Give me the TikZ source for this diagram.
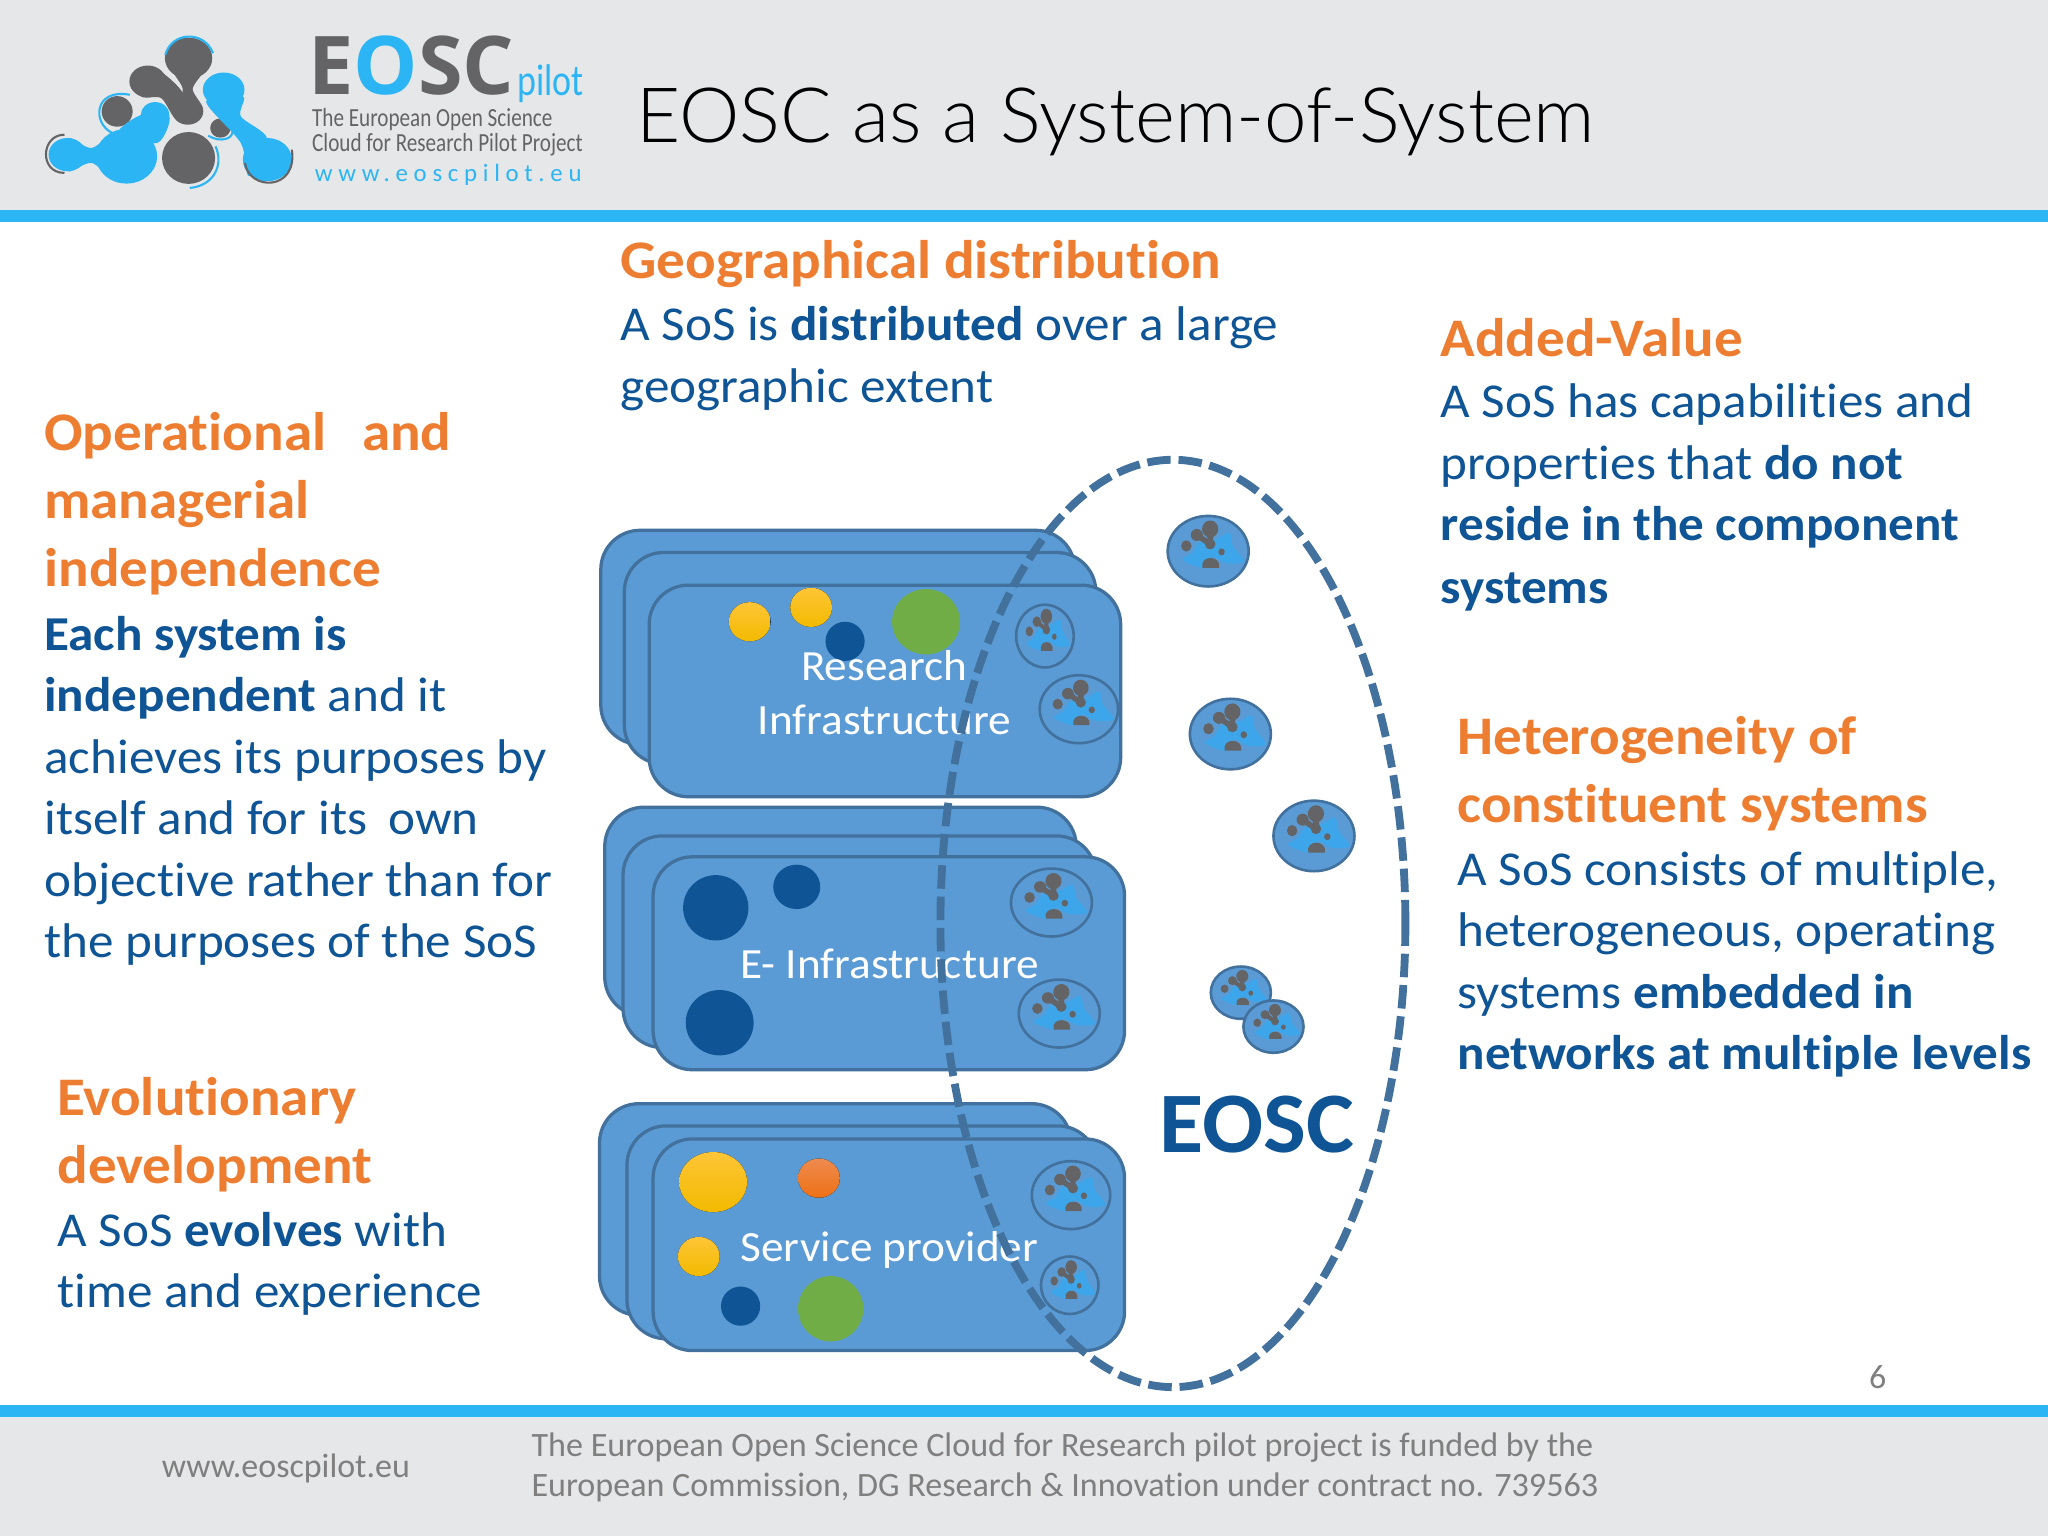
\documentclass[tikz,border=0pt]{standalone}
\usepackage{fontspec}
\setmainfont[Ligatures=NoCommon]{Carlito}
\newfontfamily\wide[FakeStretch=1.05,Ligatures=NoCommon]{Carlito}
\newfontfamily\narrow[FakeStretch=0.81,Ligatures=NoCommon]{Carlito}
\newfontfamily\logofont{Open Sans}
\newfontfamily\lightf[FakeStretch=1.0]{Lato Light}
\definecolor{hdrgray}{HTML}{E6E7E8}
\definecolor{barblue}{HTML}{2CB5F5}
\definecolor{orangeT}{HTML}{ED7D31}
\definecolor{navyT}{HTML}{0F5596}
\definecolor{boxfill}{HTML}{5B9BD5}
\definecolor{boxline}{HTML}{41719C}
\definecolor{footgray}{HTML}{7F7F7F}
\definecolor{logogray}{HTML}{646466}
\definecolor{miniblue}{HTML}{3DA5EA}
\definecolor{dotgreen}{HTML}{70AD47}
\definecolor{dotyellowA}{HTML}{FFC537}
\definecolor{dotyellowB}{HTML}{F2BA00}
\definecolor{dotorangeA}{HTML}{EE8B4E}
\definecolor{dotorangeB}{HTML}{EE7015}
\newcommand{\fsz}[1]{\fontsize{#1}{#1}\selectfont}
\newcommand{\hd}{\wide\fsz{41.6}\bfseries\color{orangeT}}
\newcommand{\bd}{\wide\fsz{37.3}\color{navyT}}
\newcommand{\bx}{\wide\fsz{33}}
\newcommand{\mini}[4]{%
 \fill[boxfill,draw=boxline,line width=2pt] (#1,#2) ellipse [x radius=#3pt,y radius=#4pt];
 \begin{scope}[shift={(#1,#2)},xscale=#3,yscale=#4]
  \fill[miniblue] plot[smooth cycle] coordinates {(.52,-.53)(.61,-.15)(.88,.29)(.44,.34)(.1,.15)(-.1,.48)(-.64,.25)(-.39,.05)(-.22,-.24)(.19,-.34)};
  \draw[logogray,line width={#3*0.14pt}] (.05,-.63) -- (.05,-.2) (-.28,-.46) -- (.05,-.2);
  \fill[logogray] (.05,-.63) ellipse [x radius=.2,y radius=.24];
  \fill[logogray] (-.28,-.46) ellipse [x radius=.15,y radius=.17];
  \fill[logogray] (.05,-.2) ellipse [x radius=.13,y radius=.15];
  \fill[logogray] (-.54,-.15) ellipse [x radius=.13,y radius=.16];
  \fill[logogray] (.33,.02) ellipse [x radius=.08,y radius=.1];
  \fill[logogray] (-.14,.47) .. controls (-.22,.1) and (.33,.1) .. (.27,.47) -- cycle;
 \end{scope}}
\tikzset{
 lbl/.style={anchor=base west,inner sep=0pt,outer sep=0pt},
 clbl/.style={anchor=base,inner sep=0pt,outer sep=0pt},
 sysbox/.style={fill=boxfill,draw=boxline,line width=2.5pt,rounded corners=30pt},
 navydot/.style={fill=navyT},
 greendot/.style={fill=dotgreen},
 yellowdot/.style={top color=dotyellowA,bottom color=dotyellowB,draw=none},
 orangedot/.style={top color=dotorangeA,bottom color=dotorangeB,draw=none},
 eoscring/.style={draw=boxline,line width=6pt,dash pattern=on 18pt off 6pt},
 swoosh/.style={line width=1.6pt},
}
\begin{document}
\begin{tikzpicture}[x=1pt,y=-1pt]
\useasboundingbox (0,0) rectangle (1568,1176);
\fill[white] (0,0) rectangle (1568,1176);
\fill[hdrgray] (0,0) rectangle (1568,161);
\fill[barblue] (0,161) rectangle (1568,170);
\fill[barblue] (0,1076) rectangle (1568,1085);
\fill[hdrgray] (0,1085) rectangle (1568,1176);
% header logo
\begin{scope}[xscale=0.3125,yscale=0.2546]
 % grey blob
 \fill[logogray] (462,175) ellipse [x radius=58,y radius=62];
 \fill[logogray] (362,245) ellipse [x radius=45,y radius=48];
 \fill[logogray] (460,335) ellipse [x radius=38,y radius=40];
 \fill[logogray] plot[smooth cycle,tension=.5] coordinates {(425,210)(497,210)(472,268)(496,330)(425,345)(448,270)};
 \fill[logogray] plot[smooth cycle,tension=.5] coordinates {(375,205)(448,280)(430,355)(395,295)(345,288)};
 \fill[logogray] (287,335) ellipse [x radius=38,y radius=46];
 \fill[logogray] (462,475) ellipse [x radius=65,y radius=78];
 \fill[logogray] (540,385) ellipse [x radius=25,y radius=29];
 % blue blobs
 \fill[barblue] (548,270) ellipse [x radius=51,y radius=52];
 \fill[barblue] (655,480) ellipse [x radius=60,y radius=65];
 \fill[barblue] plot[smooth cycle,tension=.5] coordinates {(595,290)(590,350)(655,418)(610,530)(590,430)(505,305)};
 \fill[barblue] (310,470) ellipse [x radius=75,y radius=82];
 \fill[barblue] (380,345) ellipse [x radius=35,y radius=38];
 \fill[barblue] (165,465) ellipse [x radius=46,y radius=50];
 \fill[barblue] plot[smooth cycle,tension=.5] coordinates {(347,345)(415,350)(385,430)(290,400)};
 \fill[barblue] plot[smooth cycle,tension=.5] coordinates {(165,416)(225,445)(290,395)(290,545)(225,490)(165,514)};
 % swooshes
 \draw[barblue,swoosh] (405,165) .. controls (420,95) and (500,90) .. (522,160);
 \draw[logogray,swoosh] (158,405) .. controls (100,405) and (95,520) .. (158,520);
 \draw[logogray,swoosh] (600,490) .. controls (610,575) and (730,575) .. (715,450);
 \draw[barblue,swoosh] (275,400) .. controls (225,370) and (230,265) .. (318,285);
 \draw[barblue,swoosh] (528,440) .. controls (550,500) and (520,560) .. (465,565);
 \draw[barblue,swoosh] (510,408) .. controls (540,430) and (575,420) .. (570,385);
\end{scope}
\node[lbl,text=logogray] (lE) at (236,72) {\logofont\fsz{62}\bfseries E\textcolor{barblue}{O}SC};
\node[lbl,text=barblue] (lP) at (396,73) {\narrow\fsz{34}pilot};
\node[lbl,text=logogray] (l1) at (239,97) {\narrow\fsz{20}The European Open Science};
\node[lbl,text=logogray] (l2) at (239,116) {\narrow\fsz{20}Cloud for Research Pilot Project};
\node[lbl,text=barblue] (l3) at (241,139) {\addfontfeatures{LetterSpace=23}\fsz{19}www.eoscpilot.eu};
\node[lbl] (title) at (487,109) {\lightf\fsz{58.4}EOSC as a System-of-System};
% left texts
\node[lbl] (a1) at (34,345) {\hd Operational\hspace{0.42em} and};
\node[lbl] (a2) at (34,397) {\hd managerial};
\node[lbl] (a3) at (34,449) {\hd independence};
\node[lbl] (a4) at (34,498) {\bd\bfseries Each system is};
\node[lbl] (a5) at (34,545) {\bd\textbf{independent} and it};
\node[lbl] (a6) at (34,592) {\bd achieves its purposes by};
\node[lbl] (a7) at (34,639) {\bd itself and for its\hspace{0.2em} own};
\node[lbl] (a8) at (34,686) {\bd objective rather than for};
\node[lbl] (a9) at (34,733) {\bd the purposes of the SoS};
\node[lbl] (b1) at (44,854) {\hd Evolutionary};
\node[lbl] (b2) at (44,906) {\hd development};
\node[lbl] (b3) at (44,954) {\bd A SoS \textbf{evolves} with};
\node[lbl] (b4) at (44,1001) {\bd time and experience};
% top
\node[lbl] (c1) at (475,213) {\hd Geographical distribution};
\node[lbl] (c2) at (475,261) {\bd A SoS is \textbf{distributed} over a large};
\node[lbl] (c3) at (475,308) {\bd geographic extent};
% right
\node[lbl] (d1) at (1103,273) {\hd Added-Value};
\node[lbl] (d2) at (1103,320) {\bd A SoS has capabilities and};
\node[lbl] (d3) at (1103,367) {\bd properties that \textbf{do not}};
\node[lbl] (d4) at (1103,414) {\bd\bfseries reside in the component};
\node[lbl] (d5) at (1103,462) {\bd\bfseries systems};
\node[lbl] (e1) at (1116,578) {\hd Heterogeneity of};
\node[lbl] (e2) at (1116,630) {\hd constituent systems};
\node[lbl] (e3) at (1116,678) {\bd A SoS consists of multiple,};
\node[lbl] (e4) at (1116,725) {\bd heterogeneous, operating};
\node[lbl] (e5) at (1116,772) {\bd systems \textbf{embedded in}};
\node[lbl] (e6) at (1116,819) {\bd\bfseries networks at multiple levels};
% stack 1
\draw[sysbox] (460,406) rectangle (823,570);
\draw[sysbox] (478,423) rectangle (839,585);
\draw[sysbox] (497,448) rectangle (858,610);
\fill[yellowdot] (574,476) ellipse [x radius=16pt,y radius=15pt];
\fill[yellowdot] (621,465) ellipse [x radius=16pt,y radius=15pt];
\fill[navydot] (647,491) ellipse [x radius=15pt,y radius=15pt];
\fill[greendot] (709,476) ellipse [x radius=26pt,y radius=25pt];
\mini{800}{487}{22}{24}
\mini{826}{543}{30}{26}
% stack 2
\draw[sysbox] (463,618) rectangle (824,778);
\draw[sysbox] (477,640) rectangle (839,802);
\draw[sysbox] (500,656) rectangle (861,819);
\fill[navydot] (548,695) ellipse [x radius=25pt,y radius=25pt];
\fill[navydot] (610,679) ellipse [x radius=18pt,y radius=17pt];
\fill[navydot] (551,783) ellipse [x radius=26pt,y radius=25pt];
\mini{805}{691}{31}{26}
\mini{811}{776}{31}{26}
% stack 3
\draw[sysbox] (459,845) rectangle (820,1007);
\draw[sysbox] (480,862) rectangle (840,1025);
\draw[sysbox] (500,872) rectangle (861,1034);
\fill[yellowdot] (546,905) ellipse [x radius=26pt,y radius=23pt];
\fill[orangedot] (627,902) ellipse [x radius=16pt,y radius=15pt];
\fill[yellowdot] (535,962) ellipse [x radius=16pt,y radius=15pt];
\fill[navydot] (567,1000) ellipse [x radius=15pt,y radius=15pt];
\fill[greendot] (636,1002) ellipse [x radius=25pt,y radius=25pt];
\mini{820}{915}{30}{26}
\mini{819}{984}{22}{22}
% box labels
\node[clbl,text=white] (r1) at (677,521) {\bx Research};
\node[clbl,text=white] (r2) at (677,562) {\bx Infrastructure};
\node[clbl,text=white] (r3) at (681,749) {\bx E- Infrastructure};
\node[clbl,text=white] (r4) at (681,966) {\bx Service provider};
% free logos
\mini{925}{422}{31}{27}
\mini{942}{562}{31}{27}
\mini{1006}{640}{31}{27}
\mini{950}{760}{23}{20}
\mini{975}{786}{23}{20}
% ring
\draw[eoscring] (898,707) ellipse [x radius=178pt,y radius=355pt];
\node[lbl,text=navyT] (eosc) at (888,882) {\wide\fsz{66}\bfseries EOSC};
% footer
\node[lbl,text=footgray] (pg) at (1431,1063) {\fsz{26}6};
\node[lbl,text=footgray] (f1) at (124,1131) {\fsz{26}www.eoscpilot.eu};
\node[lbl,text=footgray] (f2) at (407,1115) {\fsz{26.1}The European Open Science Cloud for Research pilot project is funded by the};
\node[lbl,text=footgray] (f3) at (407,1146) {\fsz{26.1}European Commission, DG Research \& Innovation under contract no. 739563};
\end{tikzpicture}
\end{document}
